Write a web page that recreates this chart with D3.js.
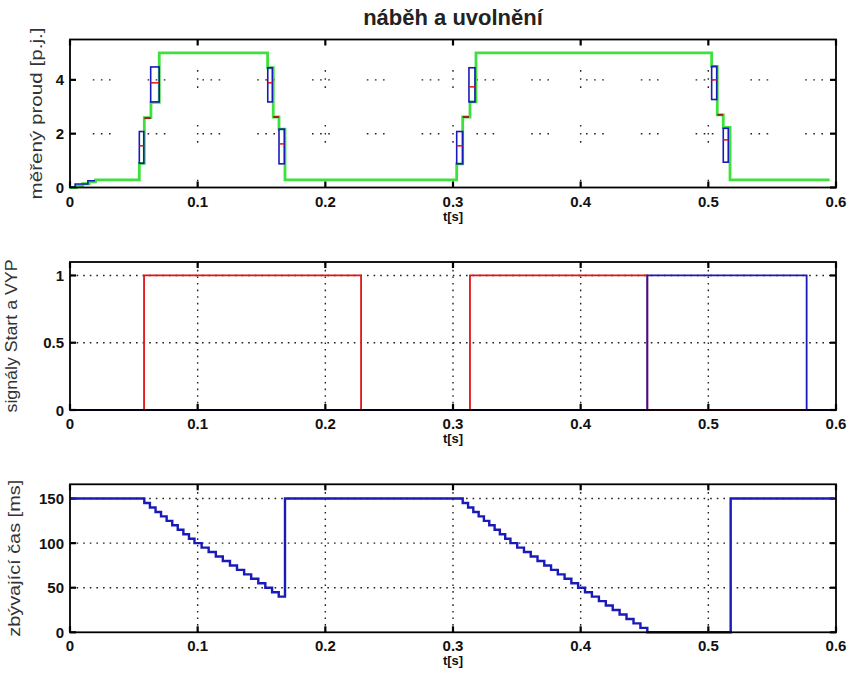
<!DOCTYPE html>
<html><head><meta charset="utf-8">
<script src="https://cdn.jsdelivr.net/npm/d3@7"></script>
<style>body{margin:0;background:#fff;} svg{display:block;}</style>
</head><body>
<svg id="c" width="852" height="678"></svg>
<script>
// ---------- shared ----------
const xTicks = [0, 0.1, 0.2, 0.3, 0.4, 0.5, 0.6];
const xTickLabels = ["0", "0.1", "0.2", "0.3", "0.4", "0.5", "0.6"];
const titleText = "náběh a uvolnění";
const xLabelText = "t[s]";

// ---------- panel 1: measured current ----------
const p1YTicks = [0, 2, 4];
const p1YLabel = "měřený proud [p.j.]";
const greenT = [0, 0.005, 0.01, 0.015, 0.02, 0.0543, 0.0582, 0.0634, 0.0699, 0.1548, 0.1592, 0.1637, 0.1684, 0.3029, 0.3076, 0.3133, 0.3180, 0.5026, 0.5070, 0.5117, 0.5170, 0.595];
const greenV = [0, 0.07, 0.14, 0.21, 0.28, 0.90, 2.60, 3.16, 5.00, 4.45, 2.62, 2.17, 0.28, 0.88, 2.62, 3.18, 5.00, 4.50, 2.70, 2.23, 0.28, 0.28];
const blueInitT = [0, 0.004, 0.0094, 0.014, 0.0196];
const blueInitV = [0.02, 0.13, 0.13, 0.25, 0.25];
const boxT0 = [0.0543, 0.0632, 0.1549, 0.1637, 0.3029, 0.3125, 0.5026, 0.5117];
const boxT1 = [0.0578, 0.0699, 0.1585, 0.1679, 0.3076, 0.3172, 0.5066, 0.5156];
const boxLo = [0.90, 3.18, 3.18, 0.88, 0.88, 3.18, 3.27, 0.94];
const boxHi = [2.08, 4.48, 4.45, 2.17, 2.08, 4.45, 4.50, 2.20];
const boxMean = [1.55, 3.89, 3.89, 1.62, 1.55, 3.74, 4.00, 1.77];
const midT0 = [0.0582, 0.1592, 0.3076, 0.5070];
const midT1 = [0.0632, 0.1637, 0.3125, 0.5117];
const midV = [2.58, 2.62, 2.62, 2.70];

// ---------- panel 2: Start / VYP signals ----------
const p2YTicks = [0, 0.5, 1];
const p2YTickLabels = ["0", "0.5", "1"];
const p2YLabel = "signály Start a VYP";
const startT = [0, 0.058, 0.228, 0.3133, 0.4522, 0.6];
const startV = [0, 1, 0, 1, 0, 0];
const vypT = [0, 0.4522, 0.577, 0.6];
const vypV = [0, 1, 0, 0];

// ---------- panel 3: remaining time ----------
const p3YTicks = [0, 50, 100, 150];
const p3YLabel = "zbývající čas [ms]";
const remainT = [0,
  0.0582, 0.0626, 0.0670, 0.0713, 0.0757, 0.0801, 0.0844, 0.0888, 0.0932, 0.0975,
  0.1031, 0.1086, 0.1142, 0.1197, 0.1253, 0.1308, 0.1364, 0.1419, 0.1475, 0.1530,
  0.1583, 0.1635, 0.1684,
  0.3076, 0.3118, 0.3159, 0.3201, 0.3242, 0.3284, 0.3326, 0.3367, 0.3409, 0.3450,
  0.3503, 0.3556, 0.3609, 0.3662, 0.3715, 0.3768, 0.3821, 0.3874, 0.3927, 0.3980,
  0.4034, 0.4088, 0.4143, 0.4197, 0.4251, 0.4305, 0.4359, 0.4414, 0.4468, 0.4522,
  0.5175, 0.5985];
const remainV = [150,
  145, 140, 135, 130, 125, 120, 115, 110, 105, 100,
  95, 90, 85, 80, 75, 70, 65, 60, 55, 50,
  45, 40, 150,
  145, 140, 135, 130, 125, 120, 115, 110, 105, 100,
  95, 90, 85, 80, 75, 70, 65, 60, 55, 50,
  45, 40, 35, 30, 25, 20, 15, 10, 5, 0,
  150, 150];

// ---------- drawing ----------
const svg = d3.select("#c");
const L = 70, R = 836, H = 148;
const tops = [39.5, 262, 484.3];
const BLUE = "#1a1ab8", RED = "#e01515", GREEN = "#3ee03e";
const x = d3.scaleLinear().domain([0, 0.6]).range([L, R]);
const FONT = "'Liberation Sans', Arial, sans-serif";

function panel(i, ymax, yTicks, yTickLabels, yLabel, gridDash, labelX, labelLen) {
  const top = tops[i], bot = top + H;
  const y = d3.scaleLinear().domain([0, ymax]).range([bot, top]);
  const g = svg.append("g");
  // grid
  const grid = g.append("g").attr("stroke", "#222").attr("stroke-width", 1.4)
    .attr("stroke-dasharray", gridDash.d).attr("fill", "none");
  xTicks.slice(1, -1).forEach(t => grid.append("line")
    .attr("x1", x(t)).attr("x2", x(t)).attr("y1", bot).attr("y2", top)
    .attr("stroke-dashoffset", gridDash.v));
  yTicks.slice(1).forEach(v => { if (y(v) > top + 2) grid.append("line")
    .attr("x1", L).attr("x2", R).attr("y1", y(v)).attr("y2", y(v))
    .attr("stroke-dashoffset", gridDash.h); });
  // ticks (inward, both sides)
  const tk = g.append("g").attr("stroke", "#000").attr("stroke-width", 2.2);
  xTicks.forEach(t => {
    tk.append("line").attr("x1", x(t)).attr("x2", x(t)).attr("y1", bot).attr("y2", bot - 6);
    tk.append("line").attr("x1", x(t)).attr("x2", x(t)).attr("y1", top).attr("y2", top + 6);
  });
  yTicks.forEach(v => {
    tk.append("line").attr("x1", L).attr("x2", L + 6).attr("y1", y(v)).attr("y2", y(v));
    tk.append("line").attr("x1", R).attr("x2", R - 6).attr("y1", y(v)).attr("y2", y(v));
  });
  // tick labels
  const tl = g.append("g").attr("font-family", FONT).attr("font-weight", "bold")
    .attr("font-size", 15).attr("fill", "#111");
  xTicks.forEach((t, k) => tl.append("text").attr("x", x(t)).attr("y", bot + 19)
    .attr("text-anchor", "middle").text(xTickLabels[k]));
  yTicks.forEach((v, k) => tl.append("text").attr("x", L - 6).attr("y", y(v) + 5.5)
    .attr("text-anchor", "end").text(yTickLabels[k]));
  // x label
  g.append("text").attr("x", (L + R) / 2).attr("y", bot + 33).attr("text-anchor", "middle")
    .attr("font-family", FONT).attr("font-weight", "bold").attr("font-size", 13)
    .attr("fill", "#111").text(xLabelText);
  // y label
  g.append("text").attr("transform", `translate(${labelX},${(top + bot) / 2}) rotate(-90)`)
    .attr("text-anchor", "middle").attr("font-family", FONT).attr("font-size", 17)
    .attr("textLength", labelLen).attr("lengthAdjust", "spacingAndGlyphs")
    .attr("fill", "#333").text(yLabel);
  return { g, y, top, bot };
}

function stairs(T, V) { return T.map((t, k) => [t, V[k]]); }

// panel 1
{
  const p = panel(0, 5.5, p1YTicks, p1YTicks.map(String), p1YLabel,
    { d: "1.6,6.5,1.6,6.5,1.6,37", v: 10, h: 32 }, 42, 172);
  const line = d3.line().x(d => x(d[0])).y(d => p.y(d[1])).curve(d3.curveStepAfter);
  const data = p.g.append("g").attr("fill", "none");
  data.append("path").attr("d", line(stairs(greenT, greenV))).attr("stroke", GREEN).attr("stroke-width", 2.8);
  data.append("path").attr("d", line(stairs(blueInitT, blueInitV))).attr("stroke", BLUE).attr("stroke-width", 1.6);
  boxT0.forEach((t0, k) => {
    data.append("rect").attr("x", x(t0)).attr("y", p.y(boxHi[k]))
      .attr("width", x(boxT1[k]) - x(t0)).attr("height", p.y(boxLo[k]) - p.y(boxHi[k]))
      .attr("stroke", BLUE).attr("stroke-width", 1.6);
    data.append("line").attr("x1", x(t0)).attr("x2", x(boxT1[k]))
      .attr("y1", p.y(boxMean[k])).attr("y2", p.y(boxMean[k]))
      .attr("stroke", RED).attr("stroke-width", 1.5);
  });
  midT0.forEach((t0, k) => data.append("line").attr("x1", x(t0)).attr("x2", x(midT1[k]))
    .attr("y1", p.y(midV[k])).attr("y2", p.y(midV[k])).attr("stroke", "#a02020").attr("stroke-width", 2));
}
// panel 2
{
  const p = panel(1, 1.1, p2YTicks, p2YTickLabels, p2YLabel, { d: "1.6,5", v: 0, h: 0 }, 17, 153);
  const line = d3.line().x(d => x(d[0])).y(d => p.y(d[1])).curve(d3.curveStepAfter);
  const data = p.g.append("g").attr("fill", "none");
  data.append("path").attr("d", line(stairs(startT, startV))).attr("stroke", RED).attr("stroke-width", 1.8);
  data.append("path").attr("d", line(stairs(vypT, vypV))).attr("stroke", BLUE).attr("stroke-width", 1.8);
}
// panel 3
{
  const p = panel(2, 166, p3YTicks, p3YTicks.map(String), p3YLabel, { d: "1.6,5", v: 0, h: 0 }, 20, 157);
  const line = d3.line().x(d => x(d[0])).y(d => p.y(d[1])).curve(d3.curveStepAfter);
  p.g.append("path").attr("d", line(stairs(remainT, remainV))).attr("fill", "none")
    .attr("stroke", BLUE).attr("stroke-width", 2.4);
}
// box outlines drawn last
tops.forEach(top => svg.append("rect").attr("x", L).attr("y", top).attr("width", R - L)
  .attr("height", H).attr("fill", "none").attr("stroke", "#000").attr("stroke-width", 1.8));
// title
svg.append("text").attr("x", (L + R) / 2).attr("y", 25).attr("text-anchor", "middle")
  .attr("font-family", FONT).attr("font-weight", "bold").attr("font-size", 22)
  .attr("fill", "#222").text(titleText);
</script>
</body></html>
